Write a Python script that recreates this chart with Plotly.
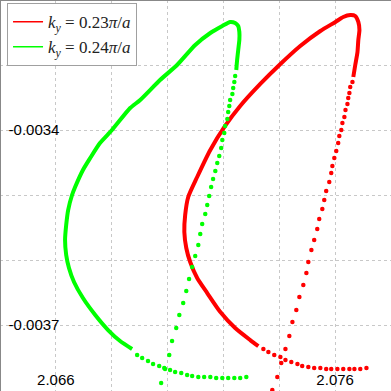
import plotly.graph_objects as go

# k_y = 0.23 pi/a (red)
red_line_x = [2.07665, 2.07672, 2.07680, 2.07683, 2.07687, 2.07683, 2.07672, 2.07654,
              2.07629, 2.07601, 2.07547, 2.07475, 2.07404, 2.07332, 2.07260, 2.07206,
              2.07153, 2.07106, 2.07074, 2.07063, 2.07060, 2.07067, 2.07081, 2.07106,
              2.07142, 2.07189, 2.07242, 2.07296, 2.07325]
red_line_y = [-0.0033185, -0.0033000, -0.0032800, -0.0032615, -0.0032462, -0.0032338,
              -0.0032246, -0.0032231, -0.0032262, -0.0032338, -0.0032477, -0.0032708,
              -0.0032985, -0.0033292, -0.0033631, -0.0033938, -0.0034308, -0.0034723,
              -0.0035031, -0.0035308, -0.0035569, -0.0035815, -0.0036031, -0.0036277,
              -0.0036508, -0.0036800, -0.0037046, -0.0037231, -0.0037323]
red_rise_x = [2.07375, 2.07393, 2.07407, 2.07422, 2.07436, 2.07447, 2.07461, 2.07472,
              2.07486, 2.07497, 2.07504, 2.07515, 2.07525, 2.07536, 2.07543, 2.07554,
              2.07561, 2.07568, 2.07579, 2.07586, 2.07590, 2.07597, 2.07604, 2.07611,
              2.07615, 2.07622, 2.07626, 2.07633, 2.07637, 2.07644, 2.07647, 2.07651,
              2.07654, 2.07662]
red_rise_y = [-0.0038000, -0.0037800, -0.0037585, -0.0037369, -0.0037169, -0.0036954,
              -0.0036769, -0.0036569, -0.0036385, -0.0036200, -0.0036031, -0.0035846,
              -0.0035692, -0.0035523, -0.0035369, -0.0035215, -0.0035077, -0.0034938,
              -0.0034800, -0.0034662, -0.0034554, -0.0034431, -0.0034323, -0.0034200,
              -0.0034092, -0.0034000, -0.0033892, -0.0033800, -0.0033692, -0.0033600,
              -0.0033508, -0.0033431, -0.0033338, -0.0033262]
red_tail_x = [2.07343, 2.07361, 2.07382, 2.07404, 2.07422, 2.07443, 2.07465, 2.07482,
              2.07504, 2.07525, 2.07547, 2.07568, 2.07586, 2.07608, 2.07629, 2.07651,
              2.07669, 2.07690, 2.07712]
red_tail_y = [-0.0037369, -0.0037415, -0.0037462, -0.0037492, -0.0037538, -0.0037569,
              -0.0037600, -0.0037631, -0.0037646, -0.0037662, -0.0037662, -0.0037677,
              -0.0037677, -0.0037677, -0.0037677, -0.0037677, -0.0037677, -0.0037677,
              -0.0037662]

# k_y = 0.24 pi/a (green)
green_line_x = [2.07246, 2.07249, 2.07253, 2.07257, 2.07257, 2.07253, 2.07242, 2.07224,
                2.07196, 2.07153, 2.07099, 2.07034, 2.06973, 2.06902, 2.06866, 2.06801,
                2.06758, 2.06723, 2.06697, 2.06669, 2.06658, 2.06644, 2.06637, 2.06633,
                2.06637, 2.06647, 2.06665, 2.06697, 2.06741, 2.06787, 2.06830, 2.06873]
green_line_y = [-0.0033077, -0.0032923, -0.0032769, -0.0032615, -0.0032492, -0.0032400,
                -0.0032354, -0.0032338, -0.0032400, -0.0032508, -0.0032692, -0.0033000,
                -0.0033231, -0.0033538, -0.0033662, -0.0034000, -0.0034200, -0.0034431,
                -0.0034615, -0.0034877, -0.0035000, -0.0035231, -0.0035462, -0.0035692,
                -0.0035923, -0.0036123, -0.0036338, -0.0036585, -0.0036846, -0.0037077,
                -0.0037246, -0.0037369]
green_rise_x = [2.06977, 2.06991, 2.07006, 2.07016, 2.07031, 2.07042, 2.07056, 2.07067,
                2.07077, 2.07088, 2.07099, 2.07110, 2.07117, 2.07124, 2.07135, 2.07142,
                2.07149, 2.07156, 2.07163, 2.07171, 2.07178, 2.07185, 2.07192, 2.07196,
                2.07203, 2.07206, 2.07214, 2.07217, 2.07221, 2.07224, 2.07232, 2.07235,
                2.07239, 2.07242]
green_rise_y = [-0.0037892, -0.0037677, -0.0037462, -0.0037246, -0.0037046, -0.0036846,
                -0.0036662, -0.0036477, -0.0036292, -0.0036108, -0.0035938, -0.0035769,
                -0.0035600, -0.0035446, -0.0035292, -0.0035154, -0.0035015, -0.0034877,
                -0.0034754, -0.0034631, -0.0034508, -0.0034400, -0.0034277, -0.0034154,
                -0.0034046, -0.0033938, -0.0033831, -0.0033723, -0.0033631, -0.0033538,
                -0.0033446, -0.0033354, -0.0033262, -0.0033169]
green_tail_x = [2.06891, 2.06909, 2.06930, 2.06948, 2.06970, 2.06988, 2.07009, 2.07027,
                2.07049, 2.07070, 2.07088, 2.07110, 2.07131, 2.07153, 2.07174, 2.07196,
                2.07217, 2.07239, 2.07260, 2.07282]
green_tail_y = [-0.0037462, -0.0037508, -0.0037554, -0.0037600, -0.0037631, -0.0037662,
                -0.0037692, -0.0037723, -0.0037738, -0.0037769, -0.0037785, -0.0037800,
                -0.0037800, -0.0037800, -0.0037815, -0.0037815, -0.0037815, -0.0037815,
                -0.0037815, -0.0037800]

x_grid = [2.064, 2.066, 2.068, 2.070, 2.072, 2.074, 2.076, 2.078]
x_text = ["", "2.066", "", "", "", "", "2.076", ""]
y_grid = [-0.0032, -0.0033, -0.0034, -0.0035, -0.0036, -0.0037, -0.0038]
y_text = ["", "", "-0.0034", "", "", "-0.0037", ""]

series = [
    ("<i>k<sub>y</sub></i> = 0.23<i>π</i>/<i>a</i>", "#ff0000",
     red_line_x, red_line_y, red_rise_x + red_tail_x, red_rise_y + red_tail_y),
    ("<i>k<sub>y</sub></i> = 0.24<i>π</i>/<i>a</i>", "#00ff00",
     green_line_x, green_line_y, green_rise_x + green_tail_x, green_rise_y + green_tail_y),
]

fig = go.Figure()
for name, color, lx, ly, dx, dy in series:
    fig.add_trace(go.Scatter(x=lx, y=ly, mode="lines", showlegend=False,
                             line=dict(color=color, width=4, shape="spline", smoothing=0.6)))
    fig.add_trace(go.Scatter(x=dx, y=dy, mode="markers", showlegend=False,
                             marker=dict(color=color, size=4.5, line=dict(width=0))))
    # legend entry only (thin line sample like the original)
    fig.add_trace(go.Scatter(x=[None], y=[None], mode="lines", name=name,
                             line=dict(color=color, width=1.5)))

tick_font = dict(family="Liberation Sans, Arial", size=15, color="black")
grid_style = dict(showgrid=True, gridcolor="#c8c8c8", griddash="dot", gridwidth=1,
                  zeroline=False, ticks="", showline=False, automargin=False,
                  tickfont=tick_font)

fig.update_xaxes(range=[2.064, 2.078], tickmode="array", tickvals=x_grid,
                 ticktext=x_text, ticklabelposition="inside", **grid_style)
# y labels sit left of the first vertical grid line, as in the original
fig.update_yaxes(range=[-0.0038015, -0.0032], tickmode="array", tickvals=y_grid,
                 ticktext=y_text, anchor="free", position=0.152,
                 ticklabelposition="outside", **grid_style)

fig.add_shape(type="line", xref="paper", yref="paper", x0=0, x1=1, y0=1, y1=1,
              line=dict(color="#888888", width=2))
fig.add_shape(type="line", xref="paper", yref="paper", x0=0, x1=0, y0=0, y1=1,
              line=dict(color="#888888", width=2))

fig.update_layout(
    width=391, height=391,
    margin=dict(l=0, r=0, t=0, b=0),
    plot_bgcolor="white", paper_bgcolor="white",
    legend=dict(x=0.018, y=0.992, xanchor="left", yanchor="top",
                bgcolor="white", bordercolor="#a0a0a0", borderwidth=1,
                font=dict(family="Liberation Serif, DejaVu Serif", size=17, color="#222"),
                tracegroupgap=0),
)

fig.write_html("out.html", config={"displayModeBar": False},
               post_script="document.body.style.margin='0px';"
                           "document.body.style.overflow='hidden';")
